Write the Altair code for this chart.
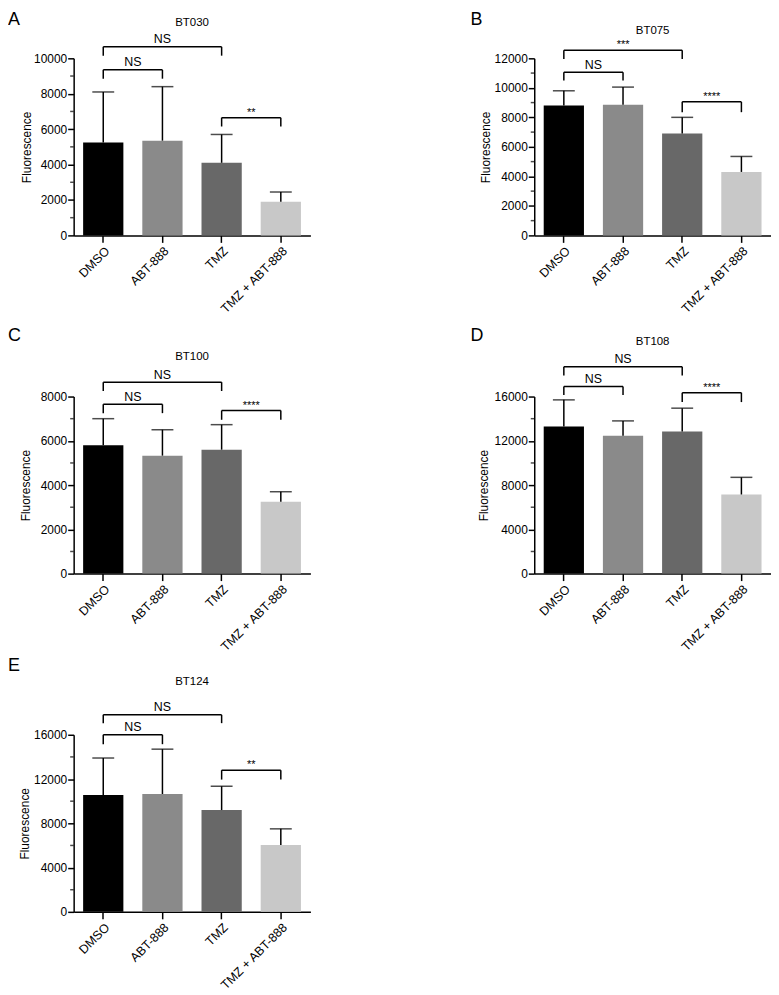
import altair as alt
import pandas as pd

cats = ["DMSO", "ABT-888", "TMZ", "TMZ + ABT-888"]
bar_colors = ["#000000", "#8a8a8a", "#686868", "#c8c8c8"]

letters = ["A", "B", "C", "D", "E"]
lines = ["BT030", "BT075", "BT100", "BT108", "BT124"]

# bar heights (mean) and top of error bar (mean + SD)
mean_A = [5250, 5350, 4100, 1900]
upper_A = [8100, 8400, 5700, 2450]
mean_B = [8800, 8850, 6900, 4300]
upper_B = [9800, 10050, 8000, 5350]
mean_C = [5800, 5330, 5600, 3250]
upper_C = [7000, 6500, 6730, 3700]
mean_D = [13300, 12450, 12850, 7150]
upper_D = [15700, 13800, 14950, 8700]
mean_E = [10550, 10650, 9200, 6050]
upper_E = [13900, 14700, 11350, 7500]

ymax = [10000, 12000, 8000, 16000, 16000]
major_step = [2000, 2000, 2000, 4000, 4000]
minor_step = [1000, 1000, 1000, 2000, 2000]

# significance brackets: group indices, bracket level, leg end, label
br_g1 = [0, 0, 2]
br_g2 = [1, 2, 3]
br_top_A = [9350, 10650, 6650]
br_leg_A = [8850, 10150, 6150]
br_lab_A = ["NS", "NS", "**"]
br_top_B = [11050, 12550, 9050]
br_leg_B = [10500, 11950, 8350]
br_lab_B = ["NS", "***", "****"]
br_top_C = [7650, 8650, 7370]
br_leg_C = [7250, 8250, 6950]
br_lab_C = ["NS", "NS", "****"]
br_top_D = [16900, 18700, 16350]
br_leg_D = [16150, 17900, 15500]
br_lab_D = ["NS", "NS", "****"]
br_top_E = [16000, 17800, 12800]
br_leg_E = [15150, 17050, 11950]
br_lab_E = ["NS", "NS", "**"]

means = [mean_A, mean_B, mean_C, mean_D, mean_E]
uppers = [upper_A, upper_B, upper_C, upper_D, upper_E]
br_tops = [br_top_A, br_top_B, br_top_C, br_top_D, br_top_E]
br_legs = [br_leg_A, br_leg_B, br_leg_C, br_leg_D, br_leg_E]
br_labs = [br_lab_A, br_lab_B, br_lab_C, br_lab_D, br_lab_E]

# layout (pixel offsets relative to each plot area)
W, H = 238, 178
letter_xy = [(-66, -47), (-64, -48), (-66, -70), (-64, -70), (-66, -78)]
title_y = [-35, -27, -40, -55, -53]
ytitle_x = [-47, -49, -48, -51, -49]

FONT = "Liberation Sans"


def panel(i):
    df = pd.DataFrame({"cond": cats, "mean": means[i], "upper": uppers[i], "pos": list(range(len(cats)))})
    br = pd.DataFrame({"g1": br_g1, "g2": br_g2, "top": br_tops[i], "leg": br_legs[i], "label": br_labs[i]})
    br = br.assign(mid=(br["g1"] + br["g2"]) / 2)
    major_vals = list(range(0, ymax[i] + 1, major_step[i]))
    minor_vals = [v for v in range(0, ymax[i] + 1, minor_step[i]) if v % major_step[i] != 0]
    mdf = pd.DataFrame({"v": minor_vals})

    ys = alt.Scale(domain=[0, ymax[i]], nice=False)
    xq = alt.Scale(domain=[-0.5, len(cats) - 0.5], nice=False, zero=False)

    yaxis = alt.Axis(
        values=major_vals,
        format="d",
        tickSize=6,
        labelPadding=1,
        labelFontSize=12,
        labelOverlap=False,
        labelFlush=False,
        title="Fluorescence",
        titleFontSize=12,
        titleX=ytitle_x[i],
        titleY=H / 2,
        titleAngle=-90,
        titleAlign="center",
        titleBaseline="middle",
        grid=False,
    )

    def Y(field):
        return alt.Y(field, scale=ys, axis=yaxis)

    bars = alt.Chart(df).mark_bar().encode(
        x=alt.X(
            "cond:N",
            sort=cats,
            scale=alt.Scale(domain=cats, paddingInner=0.32, paddingOuter=0.16),
            axis=alt.Axis(title=None, labelAngle=-45, labelFontSize=12.5, tickSize=7,
                          labelPadding=2, grid=False),
        ),
        y=Y("mean:Q"),
        color=alt.Color("cond:N", scale=alt.Scale(domain=cats, range=bar_colors), legend=None),
    )

    minor = alt.Chart(mdf).mark_tick(orient="horizontal", color="black", size=3.5, thickness=1.5).encode(
        x=alt.value(-1.75),
        y=Y("v:Q"),
    )

    err = alt.Chart(df).mark_rule(color="black", strokeWidth=1.5).encode(
        x=alt.X("pos:Q", scale=xq, axis=None),
        y=Y("mean:Q"),
        y2="upper:Q",
    )
    cap = alt.Chart(df).mark_tick(orient="horizontal", color="black", size=22, thickness=1.5).encode(
        x=alt.X("pos:Q", scale=xq, axis=None),
        y=Y("upper:Q"),
    )

    hline = alt.Chart(br).mark_rule(color="black", strokeWidth=1.5).encode(
        x=alt.X("g1:Q", scale=xq, axis=None),
        x2="g2:Q",
        y=Y("top:Q"),
    )
    leg1 = alt.Chart(br).mark_rule(color="black", strokeWidth=1.5).encode(
        x=alt.X("g1:Q", scale=xq, axis=None),
        y=Y("top:Q"),
        y2="leg:Q",
    )
    leg2 = alt.Chart(br).mark_rule(color="black", strokeWidth=1.5).encode(
        x=alt.X("g2:Q", scale=xq, axis=None),
        y=Y("top:Q"),
        y2="leg:Q",
    )
    ns_text = alt.Chart(br).transform_filter("datum.label === 'NS'").mark_text(
        font=FONT, fontSize=12.5, baseline="alphabetic", dy=-3.5, color="black"
    ).encode(
        x=alt.X("mid:Q", scale=xq, axis=None),
        y=Y("top:Q"),
        text="label:N",
    )
    star_text = alt.Chart(br).transform_filter("datum.label !== 'NS'").mark_text(
        font=FONT, fontSize=11, baseline="alphabetic", dy=-2, color="black"
    ).encode(
        x=alt.X("mid:Q", scale=xq, axis=None),
        y=Y("top:Q"),
        text="label:N",
    )

    lx, ly = letter_xy[i]
    letter = alt.Chart(pd.DataFrame({"t": [letters[i]]})).mark_text(
        font=FONT, fontSize=18, align="left", baseline="top", color="black"
    ).encode(x=alt.value(lx), y=alt.value(ly), text="t:N")
    title = alt.Chart(pd.DataFrame({"t": [lines[i]]})).mark_text(
        font=FONT, fontSize=11.5, align="center", baseline="middle", color="black"
    ).encode(x=alt.value(W / 2), y=alt.value(title_y[i]), text="t:N")

    return alt.layer(bars, minor, err, cap, hline, leg1, leg2, ns_text, star_text, letter, title).resolve_scale(
        x="independent"
    ).properties(width=W, height=H)


chart = alt.concat(
    *[panel(i) for i in range(5)],
    columns=2,
    spacing={"row": 162, "column": 225},
    bounds="flush",
).properties(padding=0).configure_view(stroke=None).configure_axis(
    domainColor="black",
    domainWidth=1.5,
    tickColor="black",
    tickWidth=1.5,
    labelColor="black",
    titleColor="black",
    labelFont=FONT,
    titleFont=FONT,
    titleFontWeight="normal",
)

chart.save("out.html", embed_options={"renderer": "svg", "actions": False})
